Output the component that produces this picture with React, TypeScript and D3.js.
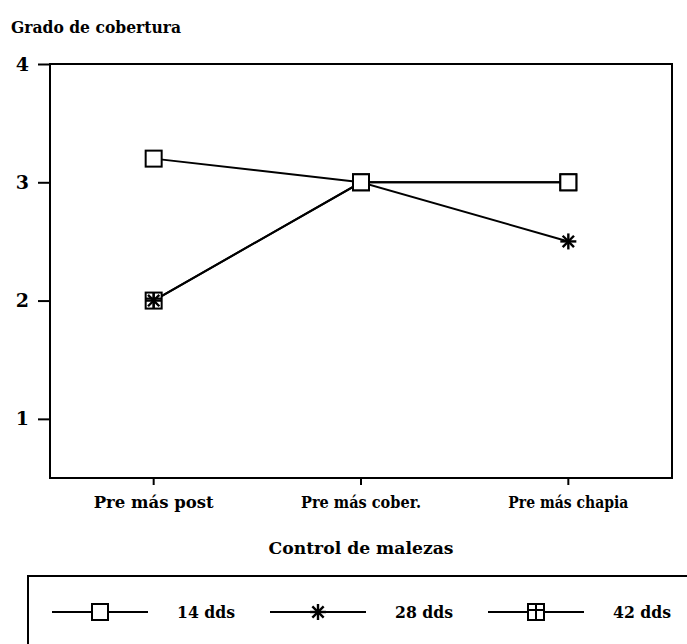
import React, { useEffect, useRef } from "react";
import * as d3 from "d3";

const categories = ["Pre más post", "Pre más cober.", "Pre más chapia"];
const seriesNames = ["14 dds", "28 dds", "42 dds"];
const values14 = [3.2, 3.0, 3.0];
const values28 = [2.0, 3.0, 2.5];
const values42 = [2.0, 3.0, 3.0];
const yTicks = [1, 2, 3, 4];

const FONT = "'DejaVu Serif', 'Liberation Serif', serif";

type Shape = "square" | "star" | "squarePlus";

function drawMarker(g: any, shape: Shape, cx: number, cy: number) {
  const s = 8;
  if (shape === "square" || shape === "squarePlus") {
    g.append("rect")
      .attr("x", cx - s).attr("y", cy - s)
      .attr("width", 2 * s).attr("height", 2 * s)
      .attr("fill", "#fff").attr("stroke", "#000").attr("stroke-width", 2);
    if (shape === "squarePlus") {
      g.append("line").attr("x1", cx).attr("x2", cx).attr("y1", cy - s).attr("y2", cy + s)
        .attr("stroke", "#000").attr("stroke-width", 2);
      g.append("line").attr("x1", cx - s).attr("x2", cx + s).attr("y1", cy - 2).attr("y2", cy - 2)
        .attr("stroke", "#000").attr("stroke-width", 2);
    }
  } else {
    const r = 8;
    [0, 45, 90, 135].forEach(a => {
      const rad = (a * Math.PI) / 180;
      g.append("line")
        .attr("x1", cx - r * Math.cos(rad)).attr("y1", cy - r * Math.sin(rad))
        .attr("x2", cx + r * Math.cos(rad)).attr("y2", cy + r * Math.sin(rad))
        .attr("stroke", "#000").attr("stroke-width", 2.4);
    });
  }
}

const boldText = (sel: any, size: number) =>
  sel.attr("font-family", FONT).attr("font-weight", "bold").attr("font-size", size).attr("fill", "#000");

const App = () => {
  const svgRef = useRef<SVGSVGElement>(null);

  useEffect(() => {
    const width = 687, height = 644;
    const left = 50, right = 672, top = 64, bottom = 478;

    const svg = d3.select(svgRef.current)
      .attr("width", width)
      .attr("height", height)
      .style("background", "#fff");
    svg.selectAll("*").remove();

    const x = d3.scaleBand().domain(categories).range([left, right]).padding(0);
    const y = d3.scaleLinear().domain([0.5, 4]).range([bottom, top]);
    const cx = (c: string) => (x(c) as number) + x.bandwidth() / 2;

    // title
    boldText(svg.append("text")
      .attr("x", 11).attr("y", 33)
      .attr("textLength", 170).attr("lengthAdjust", "spacingAndGlyphs")
      .text("Grado de cobertura"), 17);

    // frame
    svg.append("rect")
      .attr("x", left).attr("y", top)
      .attr("width", right - left).attr("height", bottom - top)
      .attr("fill", "none").attr("stroke", "#000").attr("stroke-width", 2);

    // y axis
    const yAxis = svg.append("g")
      .attr("transform", `translate(${left},0)`)
      .call(d3.axisLeft(y).tickValues(yTicks).tickSize(12).tickPadding(9).tickFormat(d3.format("d")));
    yAxis.attr("font-family", null).attr("font-size", null);
    yAxis.select(".domain").remove();
    yAxis.selectAll("line").attr("stroke-width", 2);
    boldText(yAxis.selectAll("text"), 19);

    // x axis
    const xAxis = svg.append("g")
      .attr("transform", `translate(0,${bottom})`)
      .call(d3.axisBottom(x).tickSize(7).tickPadding(11));
    xAxis.attr("font-family", null).attr("font-size", null);
    xAxis.select(".domain").remove();
    xAxis.selectAll("line").attr("stroke-width", 2);
    boldText(xAxis.selectAll("text"), 17)
      .attr("textLength", 120).attr("lengthAdjust", "spacingAndGlyphs");

    boldText(svg.append("text")
      .attr("x", 361).attr("y", 554)
      .attr("text-anchor", "middle")
      .attr("textLength", 185).attr("lengthAdjust", "spacingAndGlyphs")
      .text("Control de malezas"), 17);

    // series, last drawn on top
    const allSeries: { values: number[]; shape: Shape }[] = [
      { values: values42, shape: "squarePlus" },
      { values: values28, shape: "star" },
      { values: values14, shape: "square" },
    ];
    const line = d3.line<number>()
      .x((_, i) => cx(categories[i]))
      .y(d => y(d));

    allSeries.forEach(s => {
      svg.append("path")
        .attr("d", line(s.values))
        .attr("fill", "none").attr("stroke", "#000").attr("stroke-width", 2);
    });
    allSeries.forEach(s => {
      const g = svg.append("g");
      s.values.forEach((v, i) => drawMarker(g, s.shape, cx(categories[i]), y(v)));
    });

    // legend
    svg.append("rect")
      .attr("x", 28).attr("y", 576)
      .attr("width", 700).attr("height", 100)
      .attr("fill", "none").attr("stroke", "#000").attr("stroke-width", 2);

    const legendShapes: Shape[] = ["square", "star", "squarePlus"];
    const ly = 612;
    seriesNames.forEach((name, i) => {
      const x0 = 52 + i * 218;
      const g = svg.append("g");
      g.append("line")
        .attr("x1", x0).attr("x2", x0 + 96).attr("y1", ly).attr("y2", ly)
        .attr("stroke", "#000").attr("stroke-width", 2);
      drawMarker(g, legendShapes[i], x0 + 48, ly);
      boldText(g.append("text")
        .attr("x", x0 + 125).attr("y", ly + 6)
        .attr("textLength", 58).attr("lengthAdjust", "spacingAndGlyphs")
        .text(name), 17);
    });
  }, []);

  return (
    <svg ref={svgRef} style={{ position: "absolute", left: 0, top: 0, display: "block" }}></svg>
  );
};

export default App;
